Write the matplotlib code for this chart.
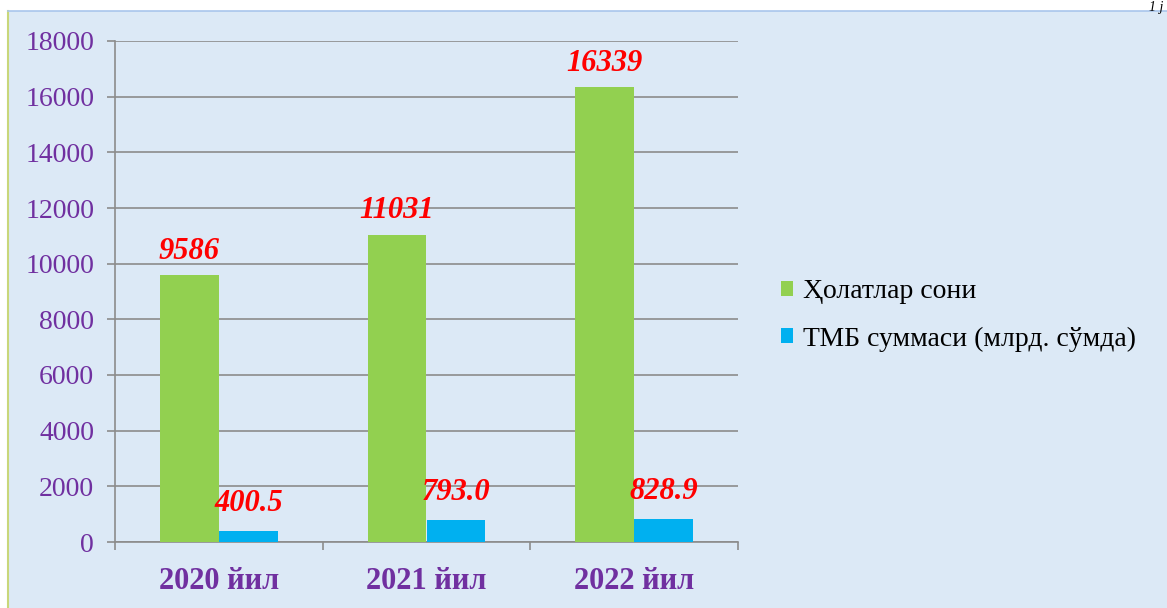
import matplotlib.pyplot as plt
import numpy as np
from matplotlib.patches import Rectangle

plt.rcParams['font.family'] = ['Liberation Serif', 'DejaVu Serif']

years = ['2020 йил', '2021 йил', '2022 йил']
cases = [9586, 11031, 16339]
amounts = [400.5, 793.0, 828.9]
case_labels = ['9586', '11031', '16339']
amount_labels = ['400.5', '793.0', '828.9']
series_names = ['Ҳолатлар сони', 'ТМБ суммаси (млрд. сўмда)']

green = '#92D050'
blue = '#00B0F0'
purple = '#7030A0'
grid_col = '#8c8c8c'

fig = plt.figure(figsize=(11.67, 6.08), dpi=100)
fig.patch.set_facecolor('white')

# light blue panel behind the chart
fig.patches.append(Rectangle((8 / 1167, 0), 1 - 8 / 1167, 1 - 11 / 608,
                             transform=fig.transFigure, facecolor='#dce9f6',
                             edgecolor='none', zorder=-10))
fig.add_artist(plt.Line2D([8 / 1167, 8 / 1167], [0, 1 - 11 / 608], transform=fig.transFigure,
                          color='#c9d77a', lw=1.5, zorder=-9))
fig.add_artist(plt.Line2D([8 / 1167, 1], [1 - 11 / 608, 1 - 11 / 608], transform=fig.transFigure,
                          color='#a9c6ec', lw=1.2, zorder=-9))
fig.text(0.997, 0.999, '1 j', ha='right', va='top', fontsize=10, style='italic', color='black')

ax = fig.add_axes([115 / 1167, 1 - 542 / 608, (738 - 115) / 1167, (542 - 41) / 608])
ax.set_facecolor('none')

x = np.arange(len(years))
w = 0.284
b1 = ax.bar(x - w / 2, cases, w, color=green, label=series_names[0], zorder=3)
b2 = ax.bar(x + w / 2, amounts, w, color=blue, label=series_names[1], zorder=3)

for rect, lab in zip(b1, case_labels):
    ax.annotate(lab, (rect.get_x() + rect.get_width() / 2, rect.get_height()),
                xytext=(0, 12), textcoords='offset points', ha='center', va='baseline',
                fontsize=22, fontweight='bold', style='italic', color='red', zorder=5)
for rect, lab in zip(b2, amount_labels):
    ax.annotate(lab, (rect.get_x() + rect.get_width() / 2, rect.get_height()),
                xytext=(0, 14), textcoords='offset points', ha='center', va='baseline',
                fontsize=22, fontweight='bold', style='italic', color='red', zorder=5)

ax.set_xlim(-0.5, 2.5)
ax.set_ylim(0, 18000)
ax.set_yticks(np.arange(0, 18001, 2000))
ax.yaxis.grid(True, color=grid_col, lw=1.2, zorder=0)
ax.tick_params(axis='y', colors=grid_col, length=6, width=1.2, labelcolor=purple,
               labelsize=20, pad=9)

ax.set_xticks(x)
ax.set_xticklabels(years, fontsize=22, fontweight='bold', color=purple)
ax.set_xticks([-0.5, 0.5, 1.5, 2.5], minor=True)
ax.tick_params(axis='x', which='major', length=0, pad=18)
ax.tick_params(axis='x', which='minor', length=6, width=1.2, color=grid_col)

for s in ['top', 'right']:
    ax.spines[s].set_visible(False)
for s in ['left', 'bottom']:
    ax.spines[s].set_color(grid_col)
    ax.spines[s].set_linewidth(1.2)

fig.legend(handles=[b1, b2], labels=series_names, loc='center left',
           bbox_to_anchor=(0.657, 0.481), frameon=False, fontsize=20,
           handlelength=0.45, handleheight=0.45, handletextpad=0.35,
           labelspacing=0.8, borderpad=0)

fig.savefig('out.png', dpi=100)
